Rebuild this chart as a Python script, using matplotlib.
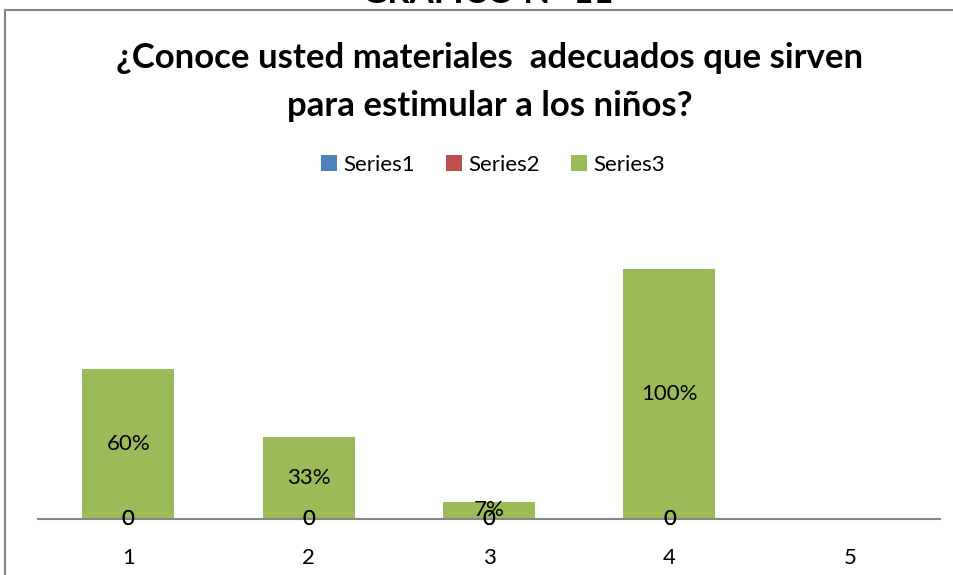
# libraries
import numpy as np
import matplotlib.pyplot as plt
from matplotlib.patches import Rectangle

# excel-ish colors
blue = "#4f81bd"
red = "#c0504d"
green = "#9bbb59"
gray = "#868686"

# data
categories = [1, 2, 3, 4]
tick_labels = ["1", "2", "3", "4", "5"]
series1 = [0, 0, 0, 0]
series2 = [0, 0, 0, 0]
series3 = [0.60, 0.33, 0.07, 1.00]

title = "¿Conoce usted materiales  adecuados que sirven\npara estimular a los niños?"

plt.rcParams['font.family'] = ['Lato', 'DejaVu Sans']

fig = plt.figure(figsize=(9.54, 5.75), dpi=100)
ax = fig.add_axes([38 / 954, 56 / 575, 902 / 954, 300 / 575])

barWidth = 0.51
b1 = ax.bar(categories, series1, width=barWidth, color=blue, label="Series1")
b2 = ax.bar(categories, series2, width=barWidth, bottom=series1, color=red, label="Series2")
bottom3 = np.add(series1, series2)
b3 = ax.bar(categories, series3, width=barWidth, bottom=bottom3, color=green, label="Series3")

ax.bar_label(b1, labels=[str(v) for v in series1], label_type='center', fontsize=16)
ax.bar_label(b2, labels=[str(v) for v in series2], label_type='center', fontsize=16)
ax.bar_label(b3, labels=[f"{v:.0%}" for v in series3], label_type='center', fontsize=16)

# axes look
ax.set_xlim(0.5, 5.5)
ax.set_ylim(0, 1.2)
ax.set_xticks(range(1, 6))
ax.set_xticklabels(tick_labels, fontsize=16)
ax.tick_params(axis='x', length=0, pad=21)
ax.set_yticks([])
for s in ["top", "right", "left"]:
    ax.spines[s].set_visible(False)
ax.spines["bottom"].set_color(gray)
ax.spines["bottom"].set_linewidth(1.5)

# chart border
fig.patches.append(Rectangle((5 / 954, -0.1), 1.2, 1 - 10 / 575 + 0.1, transform=fig.transFigure,
                             fill=False, edgecolor=gray, linewidth=1.5))

# titles
fig.text(488 / 954, 1 - 9 / 575, "GRÁFICO N° 11", ha='center', va='bottom', fontsize=25, fontweight='bold')
fig.text(490 / 954, 1 - 82 / 575, title, ha='center', va='center', fontsize=25, fontweight='bold',
         linespacing=1.6)

fig.legend(handles=[b1, b2, b3], loc='center', bbox_to_anchor=(493 / 954, 1 - 165 / 575), ncol=3,
           frameon=False, fontsize=16, handlelength=0.7, handleheight=0.7, handletextpad=0.3,
           columnspacing=1.4)

fig.savefig("out.png", dpi=100)
